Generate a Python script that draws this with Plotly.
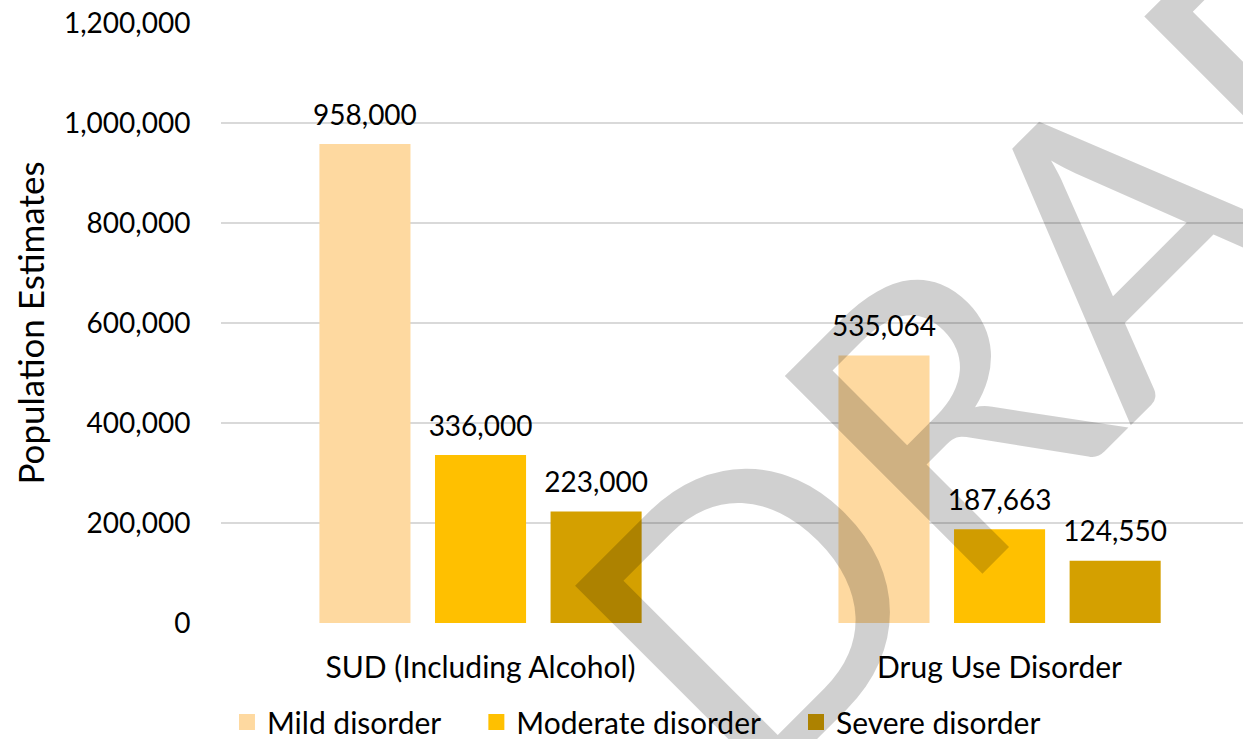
import plotly.graph_objects as go

categories = ["SUD (Including Alcohol)", "Drug Use Disorder"]
series_names = ["Mild disorder", "Moderate disorder", "Severe disorder"]
mild = [958000, 535064]
moderate = [336000, 187663]
severe = [223000, 124550]
series_values = [mild, moderate, severe]
colors = ["#FED9A0", "#FFC000", "#D4A000"]
y_ticks = [0, 200000, 400000, 600000, 800000, 1000000, 1200000]

FONT = "Lato, 'Open Sans', sans-serif"
NBSP = "\u00a0"

fig = go.Figure()
for name, vals, col in zip(series_names, series_values, colors):
    fig.add_trace(go.Bar(
        x=categories, y=vals, name=name,
        marker=dict(color=col, line=dict(width=0)),
        texttemplate="<span style='font-size:28px'>%{y:,}</span><br>" + NBSP,
        textposition="outside", constraintext="none",
        textfont=dict(family=FONT, size=11, color="#000000"),
        cliponaxis=False, showlegend=False,
    ))
# legend entries with larger square swatches
for name, col in zip(series_names, colors):
    fig.add_trace(go.Scatter(
        x=[None], y=[None], mode="markers", name=name + NBSP * 4,
        marker=dict(symbol="square", size=16, color=col),
        showlegend=True,
    ))

fig.add_annotation(
    text="DRAFT", xref="paper", yref="paper", x=0.845, y=0.608,
    xanchor="center", yanchor="middle",
    showarrow=False, textangle=-45,
    font=dict(family=FONT, size=390, color="rgba(0,0,0,0.184)"),
)

fig.update_layout(
    width=1243, height=739,
    margin=dict(l=221, r=0, t=23, b=116, autoexpand=False),
    paper_bgcolor="white", plot_bgcolor="white",
    barmode="group", bargap=0.332, bargroupgap=0.212,
    font=dict(family=FONT, size=28, color="#000000"),
    xaxis=dict(range=[-0.5, 1.469], showgrid=False, zeroline=False, showline=False,
               ticks="outside", ticklen=18, tickcolor="rgba(0,0,0,0)",
               tickfont=dict(family=FONT, size=30, color="#000000")),
    yaxis=dict(range=[0, 1200000], tickvals=y_ticks, tickformat=",",
               showgrid=True, gridcolor="#D9D9D9", gridwidth=1.5, zeroline=False,
               ticks="outside", ticklen=24, tickcolor="rgba(0,0,0,0)",
               tickfont=dict(family=FONT, size=28, color="#000000"),
               title=dict(text="Population Estimates", standoff=8,
                          font=dict(family=FONT, size=35, color="#000000"))),
    legend=dict(orientation="h", xref="container", yref="container",
                x=0.1826, xanchor="left", y=0.023, yanchor="middle",
                font=dict(family=FONT, size=30, color="#000000"),
                bgcolor="rgba(0,0,0,0)"),
    showlegend=True,
)

fig.write_html("out.html")
